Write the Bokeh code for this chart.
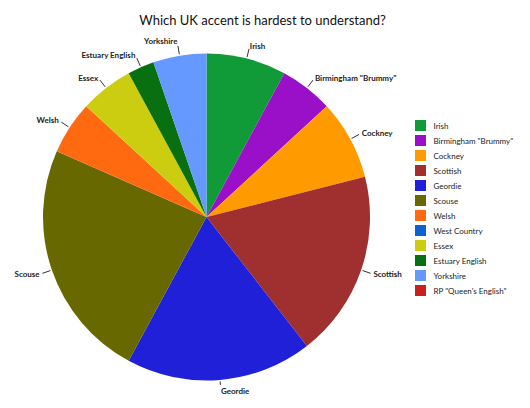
import numpy as np
from bokeh.plotting import figure
from bokeh.models import Range1d
from bokeh.embed import file_html
from bokeh.resources import INLINE
from bokeh.core.properties import value

title = "Which UK accent is hardest to understand?"
accents = ["Irish", 'Birmingham "Brummy"', "Cockney", "Scottish", "Geordie",
           "Scouse", "Welsh", "West Country", "Essex", "Estuary English",
           "Yorkshire", 'RP "Queen\'s English"']
votes = [3, 2, 3, 7, 7, 9, 2, 0, 2, 1, 2, 0]
colors = ["#109a38", "#9a10c8", "#ff9a00", "#a03030", "#2020d8", "#686800",
          "#ff6a10", "#1060d0", "#cccc10", "#087010", "#6699ff", "#c82020"]

FONT = "Lato"
W, H = 522, 400
# data coords: x = picture x, y = 408 - picture y
p = figure(width=W, height=H, x_range=Range1d(0, W), y_range=Range1d(408 - H, 408),
           output_backend="svg", toolbar_location=None, min_border=0)
p.axis.visible = False
p.grid.visible = False
p.outline_line_color = None
p.background_fill_color = "white"

cx, cy, R = 206.0, 408 - 216.5, 163.5

v = np.array(votes, dtype=float)
total = v.sum()
cum = np.concatenate([[0], np.cumsum(v)])
th0 = 360 * cum[:-1] / total   # clockwise from top
th1 = 360 * cum[1:] / total
mask = v > 0

p.wedge(x=cx, y=cy, radius=R,
        start_angle=np.radians(90 - th0[mask]), end_angle=np.radians(90 - th1[mask]),
        direction="clock", fill_color=[c for c, m in zip(colors, mask) if m],
        line_color=None)

# labels with leader lines
thm = np.radians((th0 + th1) / 2)
for i in np.where(mask)[0]:
    s, c = np.sin(thm[i]), np.cos(thm[i])
    bottom = c < -0.97
    r1 = R + (5 if bottom else 10)
    x0, y0 = cx + (R + 1.5) * s, cy + (R + 1.5) * c
    x1, y1 = cx + r1 * s, cy + r1 * c
    p.segment(x0=x0, y0=y0, x1=x1, y1=y1, line_color="#333333", line_width=1)
    rt = R + (11 if bottom else 13)
    xt, yt = cx + rt * s, cy + rt * c
    if c > 0.97:
        yt += 2
    p.text(x=[xt], y=[yt], text=[accents[i]], text_font=value(FONT),
           text_font_size="8px", text_font_style="bold", text_color="#222222",
           text_align="left" if s > 0 else "right", text_baseline="middle")

# title
p.text(x=[262], y=[408 - 19], text=[title], text_font=value(FONT),
       text_font_size="13px", text_color="#111111", text_align="center",
       text_baseline="middle")

# legend
ly = [408 - (125 + 15 * i) for i in range(len(accents))]
p.rect(x=[420] * len(accents), y=ly, width=12, height=12, fill_color=colors,
       line_color="white", line_width=1)
p.text(x=[433] * len(accents), y=ly, text=accents, text_font=value(FONT),
       text_font_size="8px", text_color="#222222", text_align="left",
       text_baseline="middle")

open("out.html", "w").write(file_html(p, INLINE))
